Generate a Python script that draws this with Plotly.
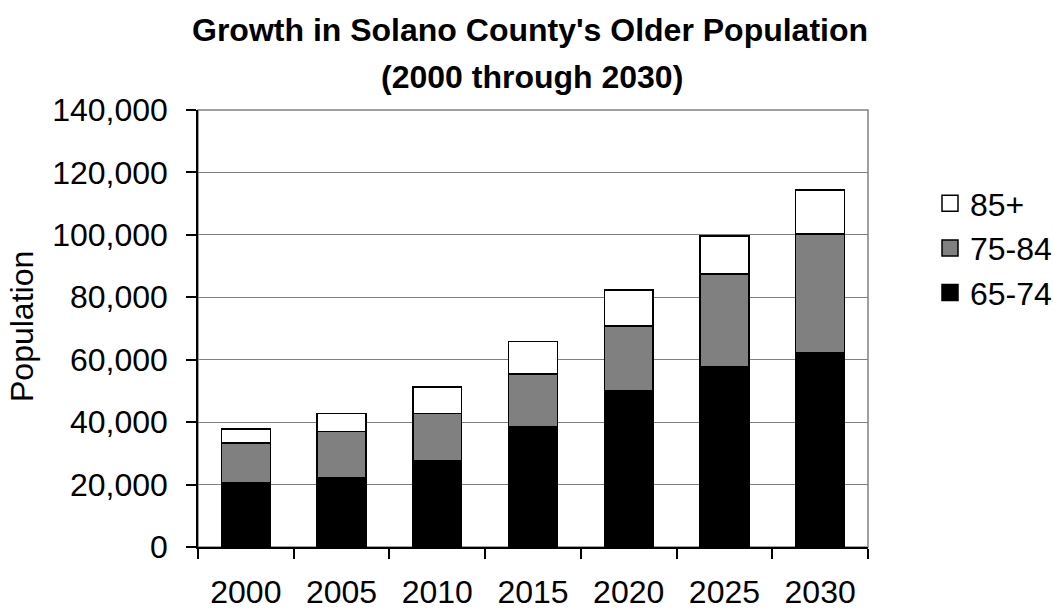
import plotly.graph_objects as go

years = ["2000", "2005", "2010", "2015", "2020", "2025", "2030"]
age_65_74 = [20500, 22300, 27500, 38500, 49900, 57700, 62100]
age_75_84 = [12800, 14700, 15300, 17000, 20900, 29800, 38200]
age_85_plus = [4500, 5800, 8400, 10300, 11600, 12100, 14100]

series = [
    ("65-74", age_65_74, "#000000"),
    ("75-84", age_75_84, "#808080"),
    ("85+", age_85_plus, "#ffffff"),
]

FONT = "Liberation Sans, Arial, sans-serif"

fig = go.Figure()
for name, vals, col in series:
    fig.add_trace(go.Bar(
        x=years, y=vals, name=name, legendgroup=name, showlegend=False,
        marker=dict(color=col, line=dict(color="#000000", width=1.5)),
    ))
# legend entries (square swatches)
for name, vals, col in series:
    fig.add_trace(go.Scatter(
        x=[None], y=[None], mode="markers", name=name, legendgroup=name,
        marker=dict(symbol="square", size=16, color=col,
                    line=dict(color="#000000", width=1.5)),
        hoverinfo="skip",
    ))

L, R, T, B = 198, 185, 110, 62
W, H = 1053, 609
ph = H - T - B
pw = W - L - R

def px_x(x):
    return (x - L) / pw

def px_y(y):
    return (H - B - y) / ph

fig.update_layout(
    width=W, height=H,
    margin=dict(l=L, r=R, t=T, b=B, pad=0, autoexpand=False),
    barmode="stack",
    bargap=0.49,
    paper_bgcolor="white",
    plot_bgcolor="white",
    font=dict(family=FONT, size=32, color="black"),
    showlegend=True,
    legend=dict(
        x=px_x(930), y=px_y(176), xanchor="left", yanchor="top",
        traceorder="reversed", itemsizing="trace",
        font=dict(size=32, family=FONT, color="black"),
        bgcolor="rgba(0,0,0,0)", borderwidth=0,
        itemclick=False, itemdoubleclick=False,
    ),
    xaxis=dict(
        type="category",
        showline=True, linecolor="black", linewidth=1.5,
        ticks="outside", tickson="boundaries", ticklen=10, tickcolor="black", tickwidth=1.5,
        tickfont=dict(size=32, family=FONT, color="black"),
        showgrid=False, zeroline=False,
        ticklabelstandoff=16,
    ),
    yaxis=dict(
        range=[0, 140000], dtick=20000, tickformat=",",
        showline=True, linecolor="black", linewidth=1.5,
        ticks="outside", ticklen=10, tickcolor="black", tickwidth=1.5,
        tickfont=dict(size=32, family=FONT, color="black"),
        showgrid=True, gridcolor="#808080", gridwidth=1,
        zeroline=False,
        ticklabelstandoff=12,
    ),
    shapes=[dict(
        type="rect", xref="paper", yref="paper", x0=0, x1=1, y0=0, y1=1,
        line=dict(color="#808080", width=1.5), layer="below",
    )],
    annotations=[
        dict(text="<b>Growth in Solano County's Older Population</b>",
             xref="paper", yref="paper", x=px_x(530), y=px_y(30),
             xanchor="center", yanchor="middle", showarrow=False,
             font=dict(size=32, family=FONT, color="black")),
        dict(text="<b>(2000 through 2030)</b>",
             xref="paper", yref="paper", x=px_x(532), y=px_y(77),
             xanchor="center", yanchor="middle", showarrow=False,
             font=dict(size=32, family=FONT, color="black")),
        dict(text="Population", textangle=-90,
             xref="paper", yref="paper", x=px_x(22), y=px_y(327),
             xanchor="center", yanchor="middle", showarrow=False,
             font=dict(size=32, family=FONT, color="black")),
    ],
)

fig.write_html("out.html")
